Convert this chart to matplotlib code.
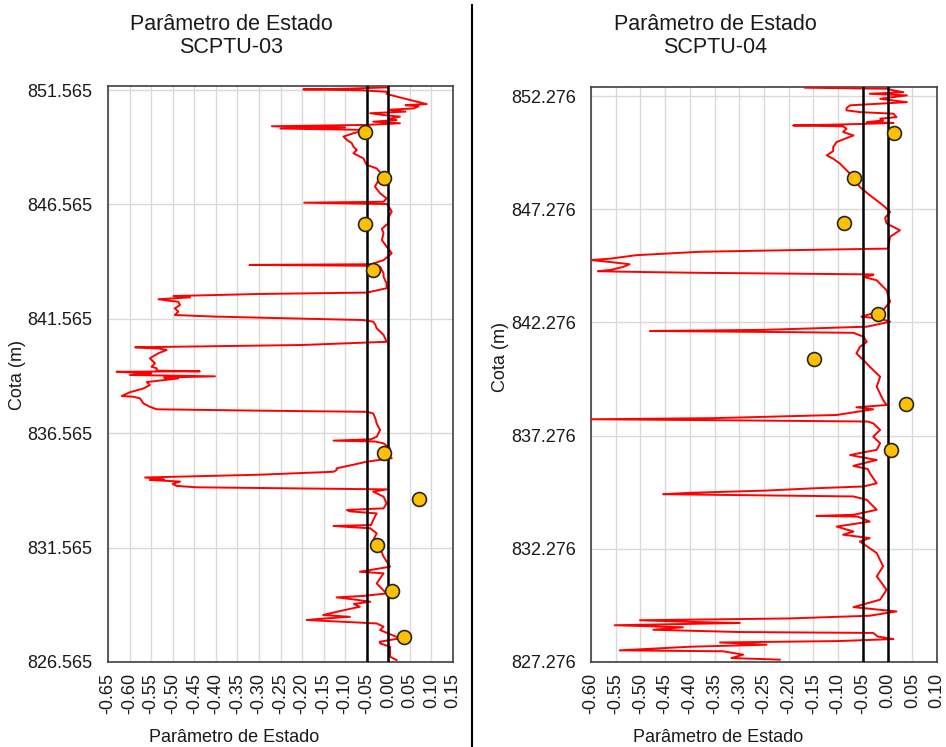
import matplotlib
matplotlib.use("Agg")
import matplotlib.pyplot as plt
from matplotlib.lines import Line2D

plt.rcParams['font.family'] = ['Liberation Sans', 'DejaVu Sans']

# SCPTU-03 profile (cota, parametro de estado)
cota_03 = [851.68, 851.62, 851.59, 851.55, 851.48, 851.39, 851.13, 850.95, 850.90, 850.85,
           850.76, 850.70, 850.62, 850.55, 850.47, 850.40, 850.30, 850.25, 850.18, 850.11,
           850.04, 849.98, 849.93, 849.88, 849.82, 849.68, 849.53, 849.38, 849.25, 849.09,
           848.94, 848.80, 848.58, 848.29, 848.14, 847.78, 847.55, 847.34, 847.05, 846.83,
           846.68, 846.64, 846.58, 846.50, 846.25, 846.00, 845.74, 845.50, 845.30, 845.01,
           844.72, 844.43, 844.13, 843.95, 843.92, 843.88, 843.84, 843.55, 843.41, 843.10,
           842.90, 842.71, 842.65, 842.56, 842.50, 842.42, 842.36, 842.31, 842.17, 842.02,
           841.88, 841.73, 841.66, 841.51, 841.44, 841.30, 841.15, 840.86, 840.56, 840.42,
           840.32, 840.26, 840.20, 840.06, 839.84, 839.62, 839.47, 839.40, 839.30, 839.27,
           839.25, 839.18, 839.11, 839.05, 839.00, 838.96, 838.80, 838.67, 838.52, 838.35,
           838.19, 838.16, 838.09, 837.87, 837.72, 837.61, 837.55, 837.50, 837.43, 837.20,
           836.99, 836.70, 836.41, 836.30, 836.24, 836.20, 836.12, 835.90, 835.70, 835.47,
           835.32, 835.15, 835.03, 834.95, 834.88, 834.75, 834.63, 834.55, 834.52, 834.45,
           834.35, 834.26, 834.20, 834.11, 834.01, 833.79, 833.50, 833.28, 833.21, 833.15,
           833.06, 832.77, 832.55, 832.51, 832.45, 832.41, 832.19, 831.89, 831.53, 831.17,
           830.73, 830.51, 830.44, 830.00, 829.56, 829.45, 829.39, 829.30, 829.20, 829.10,
           828.98, 828.80, 828.62, 828.54, 828.45, 828.40, 828.25, 828.11, 827.96, 827.60,
           827.45, 827.38, 827.23, 826.80, 826.65]
psi_03 = [0.000, -0.100, -0.197, -0.060, 0.000, -0.004, 0.050, 0.089, 0.040, 0.070,
          0.058, 0.000, 0.040, -0.042, -0.011, 0.027, 0.000, 0.019, -0.035, 0.027,
          -0.050, -0.270, -0.100, -0.250, -0.050, -0.080, -0.104, -0.096, -0.085, -0.081,
          -0.073, -0.081, -0.058, -0.050, -0.027, -0.011, -0.025, -0.031, -0.019, -0.004,
          -0.011, -0.195, -0.004, 0.000, 0.008, 0.000, 0.000, -0.015, -0.011, -0.015,
          -0.004, 0.008, -0.011, -0.040, -0.322, -0.030, -0.019, -0.011, -0.011, -0.004,
          -0.004, -0.050, -0.300, -0.498, -0.460, -0.533, -0.510, -0.487, -0.483, -0.495,
          -0.487, -0.495, -0.400, -0.058, -0.035, -0.030, -0.027, -0.011, -0.004, -0.200,
          -0.587, -0.530, -0.514, -0.533, -0.553, -0.541, -0.549, -0.537, -0.537, -0.437,
          -0.630, -0.550, -0.599, -0.402, -0.520, -0.487, -0.560, -0.553, -0.568, -0.600,
          -0.618, -0.591, -0.576, -0.568, -0.553, -0.537, -0.300, -0.050, -0.035, -0.030,
          -0.027, -0.019, -0.027, -0.040, -0.127, -0.030, -0.011, 0.004, -0.005, 0.008,
          -0.050, -0.090, -0.120, -0.120, -0.127, -0.300, -0.564, -0.520, -0.553, -0.483,
          -0.500, -0.491, -0.444, -0.004, -0.035, -0.011, -0.004, -0.011, -0.096, -0.090,
          -0.027, -0.035, -0.040, -0.127, -0.080, -0.042, -0.027, -0.035, -0.019, -0.011,
          0.004, -0.066, -0.011, -0.027, -0.004, -0.060, -0.120, -0.080, -0.042, -0.080,
          -0.066, -0.110, -0.151, -0.089, -0.160, -0.189, -0.027, -0.011, -0.019, 0.027,
          -0.020, -0.019, 0.004, 0.004, 0.019]
pts_cota_03 = [849.71, 847.70, 845.69, 843.70, 835.68, 833.67, 831.68, 829.67, 827.67]
pts_psi_03 = [-0.054, -0.009, -0.054, -0.036, -0.009, 0.072, -0.027, 0.008, 0.037]

# SCPTU-04 profile
cota_04 = [852.65, 852.60, 852.53, 852.45, 852.38, 852.31, 852.16, 852.01, 851.87, 851.75,
           851.65, 851.57, 851.50, 851.35, 851.28, 851.20, 851.13, 851.09, 851.02, 850.98,
           850.94, 850.84, 850.69, 850.54, 850.25, 850.03, 849.85, 849.66, 849.51, 849.29,
           848.85, 848.26, 847.90, 847.45, 847.16, 846.90, 846.65, 846.35, 846.06, 845.54,
           845.47, 845.40, 845.25, 845.10, 845.03, 844.95, 844.85, 844.73, 844.60, 844.54,
           844.50, 844.47, 844.40, 844.37, 844.29, 844.14, 843.70, 843.19, 842.82, 842.53,
           842.45, 842.31, 842.09, 841.95, 841.90, 841.85, 841.82, 841.65, 841.42, 841.20,
           840.91, 840.62, 840.32, 839.88, 839.44, 838.85, 838.63, 838.53, 838.44, 838.19,
           838.05, 838.00, 837.95, 837.90, 837.82, 837.53, 837.23, 836.94, 836.65, 836.42,
           836.20, 835.98, 835.94, 835.80, 835.62, 835.17, 835.03, 834.95, 834.85, 834.75,
           834.69, 834.65, 834.59, 834.44, 834.00, 833.78, 833.73, 833.70, 833.48, 833.26,
           833.04, 832.90, 832.75, 832.60, 832.09, 831.50, 831.06, 830.47, 830.03, 829.70,
           829.51, 829.32, 829.20, 829.12, 829.05, 829.00, 828.90, 828.81, 828.70, 828.60,
           828.56, 828.40, 828.29, 828.20, 828.14, 828.04, 827.95, 827.89, 827.79, 827.75,
           827.60, 827.45, 827.38]
psi_04 = [-0.167, 0.000, 0.012, 0.032, -0.036, 0.039, -0.015, 0.039, -0.076, -0.083,
          -0.083, -0.056, 0.012, 0.018, -0.015, -0.009, -0.042, 0.012, -0.100, -0.191,
          -0.090, -0.083, -0.090, -0.069, -0.103, -0.110, -0.110, -0.123, -0.110, -0.096,
          -0.076, -0.056, -0.036, -0.009, 0.005, -0.005, -0.002, 0.025, 0.005, 0.001,
          -0.200, -0.380, -0.508, -0.560, -0.599, -0.562, -0.522, -0.535, -0.560, -0.586,
          -0.481, -0.380, -0.029, -0.029, -0.049, -0.022, -0.002, 0.005, -0.009, -0.053,
          -0.015, 0.005, -0.042, -0.250, -0.481, -0.200, -0.069, -0.049, -0.042, -0.056,
          -0.063, -0.049, -0.036, -0.015, -0.022, -0.009, -0.002, -0.063, -0.029, -0.103,
          -0.350, -0.599, -0.300, -0.040, -0.029, -0.015, -0.029, -0.015, -0.022, -0.076,
          -0.022, -0.063, -0.069, -0.040, -0.036, -0.022, -0.049, -0.150, -0.245, -0.400,
          -0.454, -0.300, -0.069, -0.042, -0.022, -0.069, -0.144, -0.060, -0.036, -0.103,
          -0.069, -0.090, -0.036, -0.056, -0.022, -0.009, -0.022, -0.002, -0.015, -0.069,
          0.018, -0.036, -0.200, -0.501, -0.400, -0.299, -0.552, -0.414, -0.474, -0.300,
          -0.029, -0.020, 0.012, -0.100, -0.339, -0.245, -0.400, -0.454, -0.542, -0.333,
          -0.292, -0.316, -0.218]
pts_cota_04 = [850.66, 848.67, 846.65, 842.67, 840.67, 838.67, 836.65]
pts_psi_04 = [0.014, -0.067, -0.089, -0.019, -0.148, 0.038, 0.006]

limites = [-0.05, 0.00]

xticks_03 = [-0.65 + 0.05 * i for i in range(17)]
yticks_03 = [826.565 + 5 * i for i in range(6)]
xticks_04 = [-0.60 + 0.05 * i for i in range(15)]
yticks_04 = [827.276 + 5 * i for i in range(6)]

fig = plt.figure(figsize=(9.46, 7.47), dpi=100)

def painel(rect, cota, psi, pc, pp, xt, yt, ylim, nome, tx, ylx, yly):
    ax = fig.add_axes(rect)
    ax.plot(psi, cota, color='#ff0000', lw=1.4, zorder=3)
    for v in limites:
        ax.axvline(v, color='black', lw=1.8, zorder=4)
    ax.plot(pp, pc, 'o', ms=10, mfc='#ffc000', mec='#262626', mew=1.2, zorder=5)
    ax.set_xlim(xt[0], xt[-1])
    ax.set_ylim(*ylim)
    ax.set_xticks(xt)
    ax.set_xticklabels(['%.2f' % v if abs(v) > 1e-9 else '0.00' for v in xt], rotation=90)
    ax.set_yticks(yt)
    ax.set_yticklabels(['%.3f' % v for v in yt])
    ax.grid(True, color='#d9d9d9', lw=1)
    ax.set_axisbelow(True)
    ax.tick_params(length=0, labelsize=13, colors='#1a1a1a')
    ax.tick_params(axis='y', pad=11)
    ax.tick_params(axis='x', pad=8)
    for s in ax.spines.values():
        s.set_color('#404040')
        s.set_linewidth(1.2)
    fig.text(tx / 946, 1 - 36 / 747, 'Parâmetro de Estado\n' + nome, ha='center', va='center',
             fontsize=15.5, color='#1a1a1a', linespacing=1.1)
    fig.text((tx + 3) / 946, 1 - 737 / 747, 'Parâmetro de Estado', ha='center', va='center',
             fontsize=13, color='#1a1a1a')
    fig.text(ylx / 946, 1 - yly / 747, 'Cota (m)', ha='center', va='center', rotation=90,
             fontsize=13, color='#1a1a1a')
    return ax

painel([108 / 946, 85 / 747, 345 / 946, 576 / 747], cota_03, psi_03, pts_cota_03, pts_psi_03,
       xticks_03, yticks_03, (826.565, 851.74), 'SCPTU-03', 231, 17, 375)
painel([591 / 946, 85 / 747, 346 / 946, 575 / 747], cota_04, psi_04, pts_cota_04, pts_psi_04,
       xticks_04, yticks_04, (827.276, 852.68), 'SCPTU-04', 715, 500, 357)

fig.add_artist(Line2D([472 / 946, 472 / 946], [0, 1 - 5 / 747], color='black', lw=1.5))

fig.savefig('out.png', dpi=100)
